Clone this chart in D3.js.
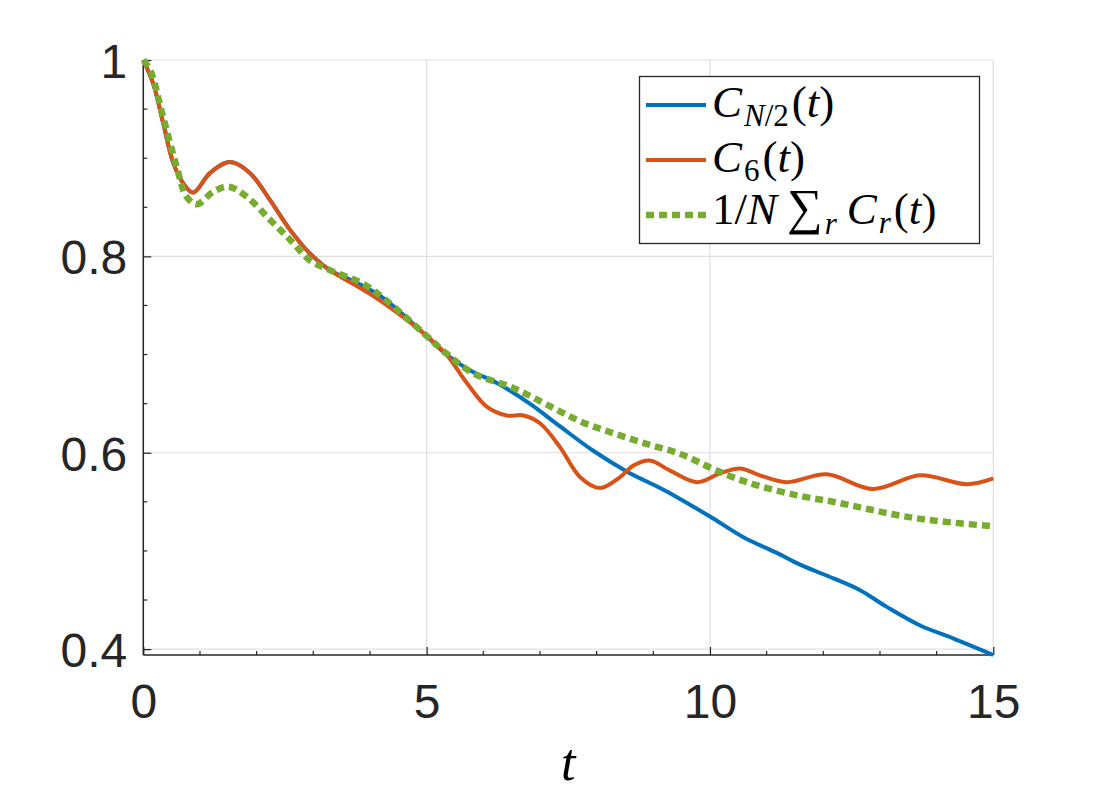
<!DOCTYPE html>
<html lang="en">
  <head>
    <meta charset="utf-8">
    <title>C(t)</title>
    <style>
      body { margin: 0; background: #fff; }
      .tick text { font-family: "Liberation Sans", Arial, sans-serif; fill: #262626; }
      .math { font-family: "Liberation Serif", "DejaVu Serif", serif; fill: #000; }
    </style>
    <script src="https://d3js.org/d3.v7.min.js"></script>
  </head>
  <body>
    <div id="viz"></div>
    <script>

    // data
    var tBlue = [0, 0.18, 0.35, 0.53, 0.71, 0.88, 1.18, 1.53, 1.88, 2.24, 2.59, 2.94, 3.29, 3.7, 4.2, 4.94, 5.35, 5.76, 6.24, 6.82, 7.35, 7.94, 8.53, 9.12, 9.41, 10.0, 10.59, 11.18, 11.59, 12.18, 12.65, 13.12, 13.71, 14.29, 15];
    var cBlue = [1, 0.975, 0.936, 0.895, 0.874, 0.865, 0.885, 0.896, 0.885, 0.857, 0.827, 0.803, 0.786, 0.775, 0.759, 0.722, 0.700, 0.684, 0.671, 0.650, 0.627, 0.602, 0.581, 0.564, 0.555, 0.535, 0.514, 0.498, 0.486, 0.472, 0.460, 0.443, 0.424, 0.411, 0.394];

    var tOrange = [0, 0.18, 0.35, 0.53, 0.71, 0.88, 1.18, 1.53, 1.88, 2.24, 2.59, 2.94, 3.29, 3.88, 4.18, 4.94, 5.35, 5.71, 6.06, 6.41, 6.71, 7.0, 7.35, 7.71, 8.06, 8.41, 8.65, 8.94, 9.29, 9.77, 10.18, 10.53, 10.88, 11.35, 12.06, 12.88, 13.71, 14.53, 15];
    var cOrange = [1, 0.975, 0.936, 0.895, 0.874, 0.865, 0.885, 0.896, 0.885, 0.857, 0.827, 0.803, 0.786, 0.766, 0.755, 0.722, 0.700, 0.671, 0.647, 0.638, 0.638, 0.630, 0.606, 0.575, 0.564, 0.575, 0.587, 0.592, 0.582, 0.570, 0.579, 0.584, 0.577, 0.570, 0.578, 0.563, 0.577, 0.568, 0.574];

    var tGreen = [0, 0.12, 0.35, 0.59, 0.76, 0.94, 1.24, 1.5, 1.82, 2.24, 2.59, 2.94, 3.29, 3.88, 4.29, 4.94, 5.35, 5.82, 6.53, 7.12, 7.71, 8.29, 8.88, 9.47, 10.0, 10.41, 10.88, 11.59, 12.18, 12.76, 13.35, 13.94, 15];
    var cGreen = [1, 0.99, 0.942, 0.891, 0.861, 0.853, 0.866, 0.871, 0.861, 0.837, 0.817, 0.796, 0.786, 0.772, 0.755, 0.722, 0.701, 0.681, 0.666, 0.649, 0.632, 0.620, 0.609, 0.599, 0.585, 0.575, 0.566, 0.556, 0.550, 0.543, 0.536, 0.531, 0.525];

    var xTicks = [0, 5, 10, 15];
    var yTicks = [0.4, 0.6, 0.8, 1];
    var yTickLabels = ['0.4', '0.6', '0.8', '1'];

    var W = 1100, H = 800;
    var mLeft = 143.3, mRight = 993.3, mTop = 60, mBottom = 655;

    var svg = d3.select('#viz').append('svg')
        .attr('width', W)
        .attr('height', H)
        .style('background', '#fff');

    var x = d3.scaleLinear().domain([0, 15]).range([mLeft, mRight]);
    var y = d3.scaleLinear().domain([0.394, 1]).range([mBottom, mTop]);

    // grid
    var grid = svg.append('g');
    grid.selectAll('.gx').data(xTicks).enter().append('line')
        .attr('x1', x).attr('x2', x)
        .attr('y1', mTop).attr('y2', mBottom)
        .attr('stroke', '#dfdfdf').attr('stroke-width', 1.2);
    grid.selectAll('.gy').data(yTicks).enter().append('line')
        .attr('x1', mLeft).attr('x2', mRight)
        .attr('y1', y).attr('y2', y)
        .attr('stroke', '#dfdfdf').attr('stroke-width', 1.2);

    // minor ticks
    var minorX = d3.range(0, 15.01, 1).filter(function(d) { return d % 5 !== 0; });
    var minorY = d3.range(0.45, 1, 0.05).filter(function(d) { return Math.abs(d * 5 - Math.round(d * 5)) > 1e-6; });
    svg.append('g').selectAll('line').data(minorX).enter().append('line')
        .attr('x1', x).attr('x2', x)
        .attr('y1', mBottom).attr('y2', mBottom - 4)
        .attr('stroke', '#262626').attr('stroke-width', 1.2);
    svg.append('g').selectAll('line').data(minorY).enter().append('line')
        .attr('x1', mLeft).attr('x2', mLeft + 4)
        .attr('y1', y).attr('y2', y)
        .attr('stroke', '#262626').attr('stroke-width', 1.2);

    // axes
    var xAxis = d3.axisBottom(x).tickValues(xTicks).tickSizeInner(-8).tickSizeOuter(0).tickPadding(24);
    var yAxis = d3.axisLeft(y).tickValues(yTicks).tickSizeInner(-8).tickSizeOuter(0).tickPadding(24)
        .tickFormat(function(d, i) { return yTickLabels[i]; });

    var gx = svg.append('g').attr('transform', 'translate(0,' + mBottom + ')').call(xAxis);
    gx.select('.domain').attr('d', 'M' + mLeft + ',0H' + mRight).attr('stroke', '#262626').attr('stroke-width', 1.5);
    gx.selectAll('.tick line').attr('stroke', '#262626').attr('stroke-width', 1.2);
    gx.selectAll('.tick text').style('font-size', '48px').attr('y', 63).attr('dy', 0);

    var gy = svg.append('g').attr('transform', 'translate(' + mLeft + ',0)').call(yAxis);
    gy.select('.domain').attr('d', 'M0,' + mTop + 'V' + mBottom).attr('stroke', '#262626').attr('stroke-width', 1.5);
    gy.selectAll('.tick line').attr('stroke', '#262626').attr('stroke-width', 1.2);
    gy.selectAll('.tick text').style('font-size', '48px').attr('x', -16).attr('dy', '0.36em');

    // curves
    var line = d3.line()
        .x(function(d) { return x(d[0]); })
        .y(function(d) { return y(d[1]); })
        .curve(d3.curveCatmullRom.alpha(0.5));

    function pairs(ts, vs) { return ts.map(function(t, i) { return [t, vs[i]]; }); }

    svg.append('path').datum(pairs(tBlue, cBlue))
        .attr('d', line).attr('fill', 'none')
        .attr('stroke', '#0072BD').attr('stroke-width', 4);
    svg.append('path').datum(pairs(tOrange, cOrange))
        .attr('d', line).attr('fill', 'none')
        .attr('stroke', '#D95319').attr('stroke-width', 4);
    svg.append('path').datum(pairs(tGreen, cGreen))
        .attr('d', line).attr('fill', 'none')
        .attr('stroke', '#77AC30').attr('stroke-width', 6.5)
        .attr('stroke-dasharray', '8,5');

    // x label
    svg.append('text').attr('class', 'math')
        .attr('x', x(7.5)).attr('y', 780)
        .attr('text-anchor', 'middle')
        .style('font-size', '52px').style('font-style', 'italic')
        .text('t');

    // legend
    var lg = svg.append('g');
    lg.append('rect')
        .attr('x', 639.5).attr('y', 76.5).attr('width', 340).attr('height', 167)
        .attr('fill', '#fff').attr('stroke', '#262626').attr('stroke-width', 1.3);

    var items = [
      { color: '#0072BD', dash: null, w: 4, y: 105 },
      { color: '#D95319', dash: null, w: 4, y: 160 },
      { color: '#77AC30', dash: '8,5', w: 6.5, y: 215 }
    ];
    lg.selectAll('.ll').data(items).enter().append('line')
        .attr('x1', 646).attr('x2', 706)
        .attr('y1', function(d) { return d.y; }).attr('y2', function(d) { return d.y; })
        .attr('stroke', function(d) { return d.color; })
        .attr('stroke-width', function(d) { return d.w; })
        .attr('stroke-dasharray', function(d) { return d.dash; });

    function mathText(yb, parts) {
      var t = lg.append('text').attr('class', 'math').attr('x', 712).attr('y', yb).style('font-size', '45px');
      parts.forEach(function(p) {
        var s = t.append('tspan').text(p[0]);
        if (p[1]) s.style('font-style', 'italic');
        if (p[2]) s.style('font-size', p[2]);
        if (p[3]) s.attr('dy', p[3]);
        if (p[4]) s.attr('dx', p[4]);
      });
    }
    mathText(117, [['C', true], ['N', true, '31px', 9, 2], ['/2', false, '31px'], ['(', false, null, -9, 3], ['t', true], [')', false]]);
    mathText(172, [['C', true], ['6', false, '31px', 9, 2], ['(', false, null, -9, 3], ['t', true], [')', false]]);
    mathText(224, [['1/', false], ['N', true], ['\u2211', false, '50px', 0, 10], ['r', true, '31px', 10, 2], ['C', true, null, -10, 10], ['r', true, '31px', 9, 2], ['(', false, null, -9, 3], ['t', true], [')', false]]);

    </script>
  </body>
</html>
